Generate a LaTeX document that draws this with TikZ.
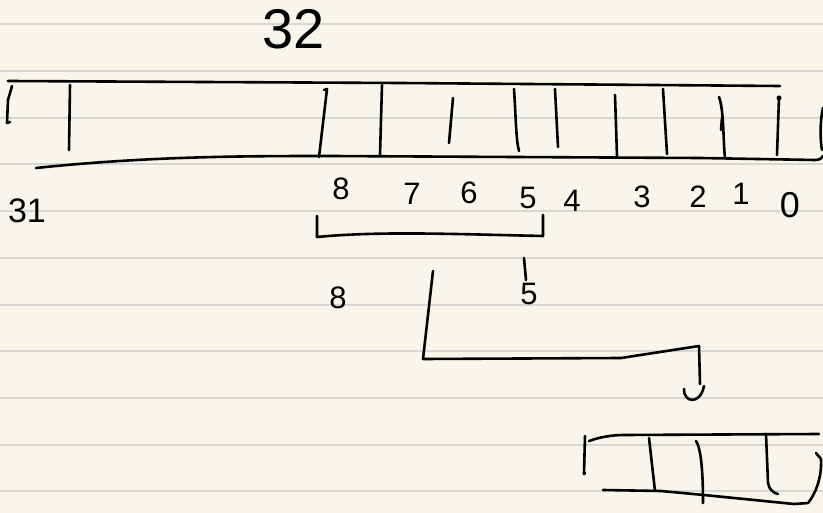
\documentclass[tikz,border=0pt]{standalone}
\usepackage{fontspec}
\setmainfont{Liberation Sans}
\begin{document}
\begin{tikzpicture}[x=1pt,y=-1pt,
  ink/.style={draw=black,line width=2.6pt,line cap=round,line join=round},
  ruling/.style={draw=rulegray,line width=2.4pt},
  digit/.style={inner sep=0pt,font=\fontsize{31}{31}\selectfont},
  bigdigit/.style={inner sep=0pt,font=\fontsize{56}{56}\selectfont}]
\definecolor{paper}{HTML}{F8F6EA}
\definecolor{rulegray}{HTML}{D6D6D4}
\useasboundingbox (0,0) rectangle (823,513);
\fill[paper] (0,0) rectangle (823,513);
% ruled lines
\foreach \y in {24,71,118,164,211,258,305,351,398,445,491}
  \draw[ruling] (0,\y) -- (823,\y);

% title
\node[bigdigit] (n32) at (294,29) {32};

% top register
\draw[ink] (8,81) -- (400,83) -- (780,86);
\draw[ink] (36,168) .. controls (150,156) and (250,156) .. (330,156) -- (700,158) -- (815,160) .. controls (820,160) and (822,158) .. (823,156);
\draw[ink] (12,86) -- (8,100) -- (7,123) -- (10,122);
\draw[ink] (70,85) -- (69,150);
\draw[ink] (324,90) -- (327,89) -- (319,157);
\draw[ink] (382,85) -- (381,120) -- (380,155);
\draw[ink] (453,98) -- (449,143);
\draw[ink] (514,89) .. controls (516,120) and (516,140) .. (519,151);
\draw[ink] (555,89) -- (558,147);
\draw[ink] (615,95) -- (617,156);
\draw[ink] (663,89) -- (667,154);
\draw[ink] (719,97) .. controls (724,110) and (723,140) .. (725,158);
\draw[ink] (721,130) -- (722,118);
\draw[ink] (779,97) -- (777,155);
\fill (779,98) circle (2.5pt);
\draw[ink] (823,108) .. controls (820,120) and (820,140) .. (822,150);

% bit labels
\node[digit,font=\fontsize{34}{34}\selectfont] (l31) at (27,211) {31};
\node[digit] (l8) at (341,189) {8};
\node[digit] (l7) at (412,194) {7};
\node[digit] (l6) at (469,193) {6};
\node[digit] (l5) at (528,198) {5};
\node[digit] (l4) at (572,201) {4};
\node[digit] (l3) at (642,197) {3};
\node[digit] (l2) at (698,197) {2};
\node[digit] (l1) at (741,194) {1};
\node[digit,font=\fontsize{36}{36}\selectfont] (l0) at (790,205) {0};

% bracket under bits 8..5
\coordinate (bl) at (317,216);
\coordinate (br) at (543,215);
\draw[ink] (bl) -- (317,237) .. controls (380,231) and (450,234) .. (543,236) -- (br);

% extracted field labels
\node[digit] (f8) at (338,298) {8};
\draw[ink] (524,258) -- (526,280);
\node[digit] (f5) at (529,294) {5};

% connector to small register
\coordinate (c0) at (433,271);
\coordinate (c1) at (423,359);
\coordinate (c2) at (621,358);
\coordinate (c3) at (699,346);
\coordinate (c4) at (700,384);
\draw[ink] (c0) -- (c1) -- (c2) -- (c3) -- (c4);
\draw[ink] (684,389) .. controls (683,402) and (700,406) .. (704,386);

% small register
\draw[ink] (589,441) .. controls (600,437) and (612,435) .. (624,435) -- (819,434);
\draw[ink] (585,436) -- (584,474) -- (585,473);
\draw[ink] (603,490) -- (661,491) -- (704,495) -- (794,504) -- (808,503)
  .. controls (814,496) and (822,480) .. (821,459) -- (816,453);
\draw[ink] (649,438) -- (655,491);
\draw[ink] (696,441) .. controls (702,450) and (703,480) .. (703,503);
\draw[ink] (766,434) -- (768,483) .. controls (769,490) and (774,493) .. (778,494);
\end{tikzpicture}
\end{document}
